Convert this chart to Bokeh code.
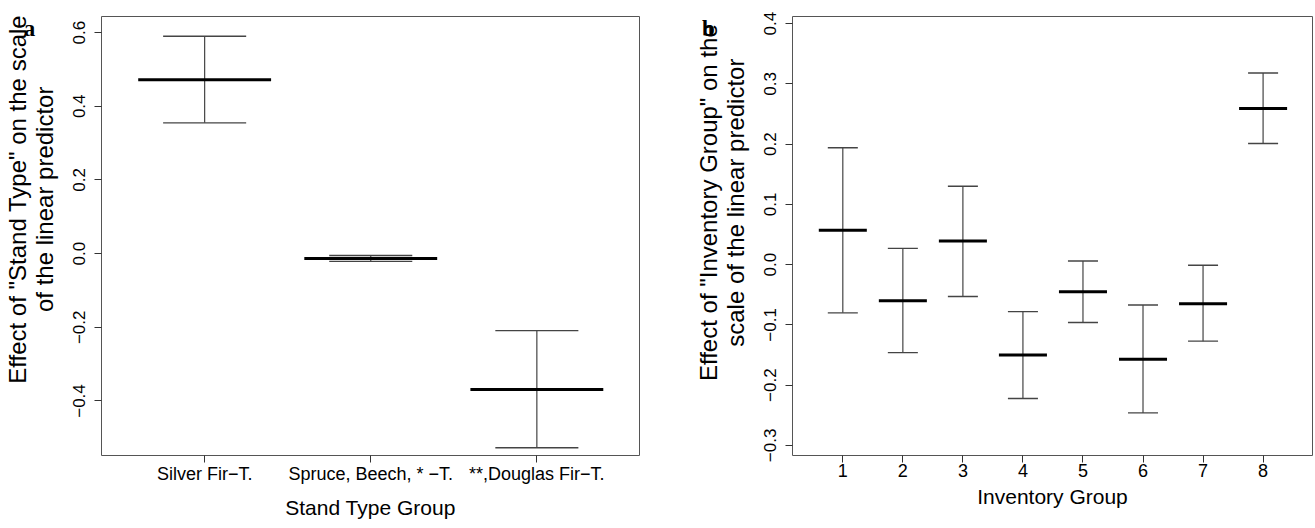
import math
from bokeh.plotting import figure
from bokeh.models import ColumnDataSource, FixedTicker, Label, CustomJSTickFormatter
from bokeh.layouts import row
from bokeh.embed import file_html
from bokeh.resources import INLINE

# ---------------- data: panel a ----------------
stand_types = ["Silver Fir\u2212T.", "Spruce, Beech, * \u2212T.", "**,Douglas Fir\u2212T."]
stand_pos = [1, 2, 3]
stand_mean = [0.472, -0.013, -0.369]
stand_upper = [0.590, -0.005, -0.209]
stand_lower = [0.355, -0.021, -0.527]
stand_yticks = [-0.4, -0.2, 0.0, 0.2, 0.4, 0.6]
stand_ytitle = ['Effect of "Stand Type" on the scale', "of the linear predictor"]

# ---------------- data: panel b ----------------
inv_groups = [1, 2, 3, 4, 5, 6, 7, 8]
inv_mean = [0.057, -0.060, 0.039, -0.150, -0.045, -0.157, -0.065, 0.259]
inv_upper = [0.194, 0.027, 0.130, -0.078, 0.006, -0.067, -0.001, 0.318]
inv_lower = [-0.080, -0.146, -0.053, -0.222, -0.096, -0.246, -0.127, 0.201]
inv_yticks = [-0.3, -0.2, -0.1, 0.0, 0.1, 0.2, 0.3, 0.4]
inv_ytitle = ['Effect of "Inventory Group" on the', "scale of the linear predictor"]

FONT = "Liberation Sans"
MEAN_HALF = 0.4
CAP_HALF = 0.25
NBSP = "\u00a0"

num_fmt = CustomJSTickFormatter(code="""
    const s = Math.abs(tick).toFixed(1);
    return (tick < -1e-9 ? "\u2212" : "") + s;
""")


def style(p, xticks, yticks, ylines, shift, xlabel, xtitle_standoff):
    p.grid.visible = False
    p.outline_line_color = "#555555"
    p.outline_line_width = 1
    p.background_fill_color = "white"
    p.border_fill_color = "white"
    for ax in (p.xaxis[0], p.yaxis[0]):
        ax.axis_line_color = None
        ax.major_tick_line_color = "#333333"
        ax.major_tick_out = 7
        ax.major_tick_in = 0
        ax.minor_tick_line_color = None
        ax.major_label_text_font = FONT
        ax.major_label_text_font_size = "18px"
        ax.major_label_text_color = "black"
        ax.axis_label_text_font = FONT
        ax.axis_label_text_font_size = "21px"
        ax.axis_label_text_font_style = "normal"
        ax.axis_label_text_color = "black"
    p.xaxis[0].ticker = FixedTicker(ticks=xticks)
    p.yaxis[0].ticker = FixedTicker(ticks=yticks)
    p.yaxis[0].formatter = num_fmt
    p.yaxis[0].major_label_orientation = "parallel"
    p.yaxis[0].major_label_text_font_size = "17px"
    p.yaxis[0].major_label_standoff = 9
    # leading no-break spaces push the centred title upward (as in the reference)
    pad = NBSP * shift
    p.yaxis[0].axis_label = "\n".join(pad + s for s in ylines)
    p.yaxis[0].axis_label_text_font_size = "24px"
    p.yaxis[0].axis_label_text_line_height = 1.0
    p.yaxis[0].axis_label_standoff = 13
    p.xaxis[0].axis_label = xlabel
    p.xaxis[0].major_label_standoff = 1
    p.xaxis[0].axis_label_standoff = xtitle_standoff


def draw(p, xs, mean, upper, lower):
    src = ColumnDataSource(dict(
        x=xs, mean=mean, upper=upper, lower=lower,
        m0=[x - MEAN_HALF for x in xs], m1=[x + MEAN_HALF for x in xs],
        c0=[x - CAP_HALF for x in xs], c1=[x + CAP_HALF for x in xs],
    ))
    p.segment(x0="x", y0="lower", x1="x", y1="upper", source=src,
              line_color="#444444", line_width=1.2)
    p.segment(x0="c0", y0="upper", x1="c1", y1="upper", source=src,
              line_color="#444444", line_width=1.4)
    p.segment(x0="c0", y0="lower", x1="c1", y1="lower", source=src,
              line_color="#444444", line_width=1.4)
    p.segment(x0="m0", y0="mean", x1="m1", y1="mean", source=src,
              line_color="black", line_width=3)


def letter(txt, x, y):
    return Label(x=x, y=y, x_units="screen", y_units="screen", text=txt,
                 text_font="Liberation Serif", text_font_style="bold",
                 text_font_size="23px", text_align="center",
                 text_baseline="alphabetic", text_color="black")


H = 528
W1 = 675
W2 = 1315 - W1

# ---------------- panel a ----------------
p1 = figure(width=W1, height=H, output_backend="svg", toolbar_location=None,
            x_range=(0.379, 3.618), y_range=(-0.548, 0.6437),
            min_border_left=101, min_border_right=W1 - 639,
            min_border_top=16, min_border_bottom=73)
draw(p1, stand_pos, stand_mean, stand_upper, stand_lower)
style(p1, stand_pos, stand_yticks, stand_ytitle, 11, "Stand Type Group", 9)
p1.xaxis[0].formatter = CustomJSTickFormatter(args=dict(labels=stand_types), code="""
    return labels[Math.round(tick) - 1];
""")
# panel letter lives in the (empty) right border panel, offset to the far left
p1.add_layout(letter("a", -610, 427), "right")

# ---------------- panel b ----------------
p2 = figure(width=W2, height=H, output_backend="svg", toolbar_location=None,
            x_range=(0.162, 8.823), y_range=(-0.3167, 0.4117),
            min_border_left=792 - W1, min_border_right=3,
            min_border_top=16, min_border_bottom=73)
draw(p2, inv_groups, inv_mean, inv_upper, inv_lower)
style(p2, inv_groups, inv_yticks, inv_ytitle, 10, "Inventory Group", 5)
p2.xaxis[0].formatter = CustomJSTickFormatter(code="return String(Math.round(tick));")
p2.add_layout(letter("b", 30, 427), "left")

layout = row(p1, p2)
with open("out.html", "w") as f:
    f.write(file_html(layout, INLINE))
